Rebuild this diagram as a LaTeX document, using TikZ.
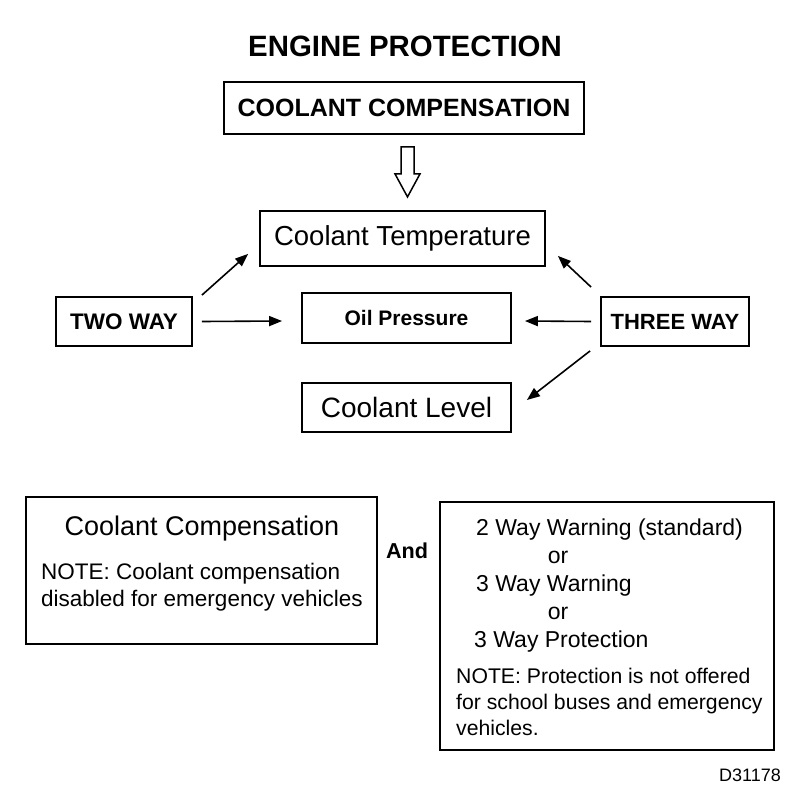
\documentclass[tikz,border=0pt]{standalone}
\usepackage{fontspec}
\setmainfont{Liberation Sans}
\usetikzlibrary{arrows.meta}
\newcommand{\fsz}[1]{\fontsize{#1}{#1}\selectfont}
\begin{document}
\begin{tikzpicture}[x=1pt,y=-1pt,
  box/.style={draw, line width=1.8pt, inner sep=0pt},
  txt/.style={inner sep=0pt},
  arr/.style={line width=1.6pt, -{Triangle[length=13pt,width=10pt]}}]
\useasboundingbox (0,0) rectangle (800,800);
% title
\node[txt, anchor=base, font=\bfseries\fsz{29.4}] (title) at (405,56.5) {ENGINE PROTECTION};
% boxes top
\node[box, minimum width=360, minimum height=52, font=\bfseries\fsz{25}] (cc) at (404,108) {COOLANT COMPENSATION};
\node[box, minimum width=285, minimum height=55, font=\fsz{27.5}] (ct) at (402.5,238.5) {Coolant Temperature};
\node[box, minimum width=209, minimum height=50, font=\bfseries\fsz{21}] (op) at (406.5,318) {Oil Pressure};
\node[box, minimum width=209, minimum height=49, font=\fsz{28}] (cl) at (406.5,407.5) {Coolant Level};
\node[box, minimum width=136, minimum height=49, font=\bfseries\fsz{22.5}] (two) at (124,321.5) {TWO WAY};
\node[box, minimum width=148, minimum height=49, font=\bfseries\fsz{22}] (three) at (675,321.5) {THREE WAY};
% hollow arrow
\draw[line width=1.5pt, line join=miter] ([shift={(-3,12)}]cc.south) -- ++(0,27) -- ++(-6,0) -- ++(12.5,23) -- ++(12.5,-23) -- ++(-6,0) -- ++(0,-27) -- cycle;
% arrows
\draw[arr] ([shift={(9,-1)}]two.north east) -- ([shift={(-11,-13)}]ct.south west);
\draw[arr] ([shift={(9,0)}]two.east) -- ([shift={(-19,3)}]op.west);
\draw[arr] ([shift={(-9,-9)}]three.north west) -- ([shift={(12,-11)}]ct.south east);
\draw[arr] ([shift={(-9,0)}]three.west) -- ([shift={(13,3)}]op.east);
\draw[arr] ([shift={(-10,4)}]three.south west) -- ([shift={(15,-7.5)}]cl.east);
% bottom left box
\node[box, minimum width=351, minimum height=147] (lb) at (201.5,570.5) {};
\node[txt, anchor=base, font=\fsz{27}] (lbt) at (202,535) {Coolant Compensation};
\node[txt, anchor=base west, font=\fsz{22.5}] (lbn1) at (41,579) {NOTE: Coolant compensation};
\node[txt, anchor=base west, font=\fsz{22.5}] (lbn2) at (41,606) {disabled for emergency vehicles};
% And
\node[txt, anchor=base, font=\bfseries\fsz{21.6}] (and) at (407,558) {And};
% right box
\node[box, minimum width=334, minimum height=248] (rb) at (607,626) {};
\node[txt, anchor=base west, font=\fsz{23}] (r1) at (476,535) {2 Way Warning (standard)};
\node[txt, anchor=base, font=\fsz{23}] (r2) at (558,563) {or};
\node[txt, anchor=base west, font=\fsz{23}] (r3) at (476,591) {3 Way Warning};
\node[txt, anchor=base, font=\fsz{23}] (r4) at (558,619) {or};
\node[txt, anchor=base west, font=\fsz{23}] (r5) at (474,647) {3 Way Protection};
\node[txt, anchor=base west, font=\fsz{21.2}] (r6) at (456,683) {NOTE: Protection is not offered};
\node[txt, anchor=base west, font=\fsz{21.2}] (r7) at (456,709) {for school buses and emergency};
\node[txt, anchor=base west, font=\fsz{21.2}] (r8) at (456,735) {vehicles.};
% figure id
\node[txt, anchor=base east, font=\fsz{18}] (fid) at (781,781) {D31178};
\end{tikzpicture}
\end{document}
